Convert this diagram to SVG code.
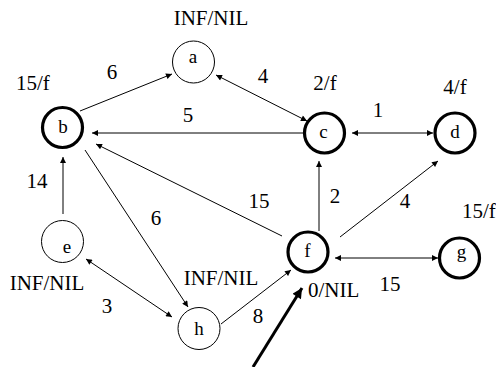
<svg xmlns="http://www.w3.org/2000/svg" width="496" height="367" viewBox="0 0 496 367">
  <defs>
    <marker id="ah" viewBox="0 0 10 10" refX="10" refY="5" markerWidth="9" markerHeight="6" markerUnits="userSpaceOnUse" orient="auto-start-reverse">
      <path d="M0,0 L10,5 L0,10 z" fill="#000"/>
    </marker>
    <marker id="ahBig" viewBox="0 0 10 10" refX="10" refY="5" markerWidth="14" markerHeight="10" markerUnits="userSpaceOnUse" orient="auto">
      <path d="M0,0 L10,5 L0,10 z" fill="#000"/>
    </marker>
  </defs>
  <style>
    .lbl { font-size: 21px; }
    .nm { font-size: 19px; text-anchor: middle; }
    .w { font-size: 21px; text-anchor: middle; }
    .thin { fill: #fff; stroke: #000; stroke-width: 1; }
    .thick { fill: #fff; stroke: #000; stroke-width: 3.2; }
    .e { stroke: #000; stroke-width: 1; fill: none; }
  </style>

  <rect width="496" height="367" fill="#fff"/>

  <!-- connectors -->
  <g id="edges">
    <line class="e" x1="80" y1="111" x2="172" y2="74" marker-end="url(#ah)"/>
    <line class="e" x1="216" y1="75" x2="307" y2="121" marker-start="url(#ah)" marker-end="url(#ah)"/>
    <line class="e" x1="303" y1="133" x2="92" y2="133" marker-end="url(#ah)"/>
    <line class="e" x1="352" y1="133" x2="433" y2="133" marker-start="url(#ah)" marker-end="url(#ah)"/>
    <line class="e" x1="319" y1="231" x2="319" y2="161" marker-end="url(#ah)"/>
    <line class="e" x1="340" y1="237" x2="438" y2="161" marker-end="url(#ah)"/>
    <line class="e" x1="282" y1="236" x2="96" y2="144" marker-end="url(#ah)"/>
    <line class="e" x1="85" y1="150" x2="188" y2="307" marker-end="url(#ah)"/>
    <line class="e" x1="63" y1="214" x2="63" y2="157" marker-end="url(#ah)"/>
    <line class="e" x1="86" y1="259" x2="172" y2="317" marker-start="url(#ah)" marker-end="url(#ah)"/>
    <line class="e" x1="221" y1="324" x2="291" y2="270" marker-end="url(#ah)"/>
    <line class="e" x1="335" y1="258" x2="438" y2="258" marker-start="url(#ah)" marker-end="url(#ah)"/>
    <line x1="253" y1="367" x2="302" y2="288" stroke="#000" stroke-width="3" marker-end="url(#ahBig)"/>
  </g>

  <g font-family="'Liberation Serif', 'Times New Roman', serif" fill="#000">
    <!-- edge weights -->
    <g id="weights">
      <text class="w" x="112" y="79">6</text>
      <text class="w" x="263" y="83">4</text>
      <text class="w" x="188" y="122">5</text>
      <text class="w" x="378" y="117">1</text>
      <text class="w" x="37" y="188">14</text>
      <text class="w" x="156" y="225">6</text>
      <text class="w" x="259" y="208">15</text>
      <text class="w" x="335" y="203">2</text>
      <text class="w" x="405" y="208">4</text>
      <text class="w" x="107" y="313">3</text>
      <text class="w" x="258" y="323">8</text>
      <text class="w" x="390" y="291">15</text>
    </g>

    <!-- nodes -->
    <g id="node-a">
      <circle class="thin" cx="193.5" cy="62" r="21"/>
      <text class="nm" x="193" y="63">a</text>
      <text class="lbl" x="211" y="25" text-anchor="middle">INF/NIL</text>
    </g>
    <g id="node-b">
      <circle class="thick" cx="62.5" cy="127.5" r="20"/>
      <text class="nm" x="63" y="133">b</text>
      <text class="lbl" x="16" y="90">15/f</text>
    </g>
    <g id="node-c">
      <circle class="thick" cx="324.5" cy="133" r="20"/>
      <text class="nm" x="323.5" y="138">c</text>
      <text class="lbl" x="325" y="90" text-anchor="middle">2/f</text>
    </g>
    <g id="node-d">
      <circle class="thick" cx="455" cy="133" r="20"/>
      <text class="nm" x="455" y="138">d</text>
      <text class="lbl" x="455" y="94" text-anchor="middle">4/f</text>
    </g>
    <g id="node-e">
      <circle class="thin" cx="62.5" cy="241.5" r="21"/>
      <text class="nm" x="67" y="253">e</text>
      <text class="lbl" x="47" y="290" text-anchor="middle">INF/NIL</text>
    </g>
    <g id="node-f">
      <circle class="thick" cx="308" cy="252" r="20"/>
      <text class="nm" x="307.5" y="257">f</text>
      <text class="lbl" x="308" y="297">0/NIL</text>
    </g>
    <g id="node-g">
      <circle class="thick" cx="459.5" cy="258" r="20"/>
      <text class="nm" x="461.5" y="258">g</text>
      <text class="lbl" x="462" y="218">15/f</text>
    </g>
    <g id="node-h">
      <circle class="thin" cx="199" cy="328.5" r="21"/>
      <text class="nm" x="199" y="335">h</text>
      <text class="lbl" x="221" y="285" text-anchor="middle">INF/NIL</text>
    </g>
  </g>
</svg>
